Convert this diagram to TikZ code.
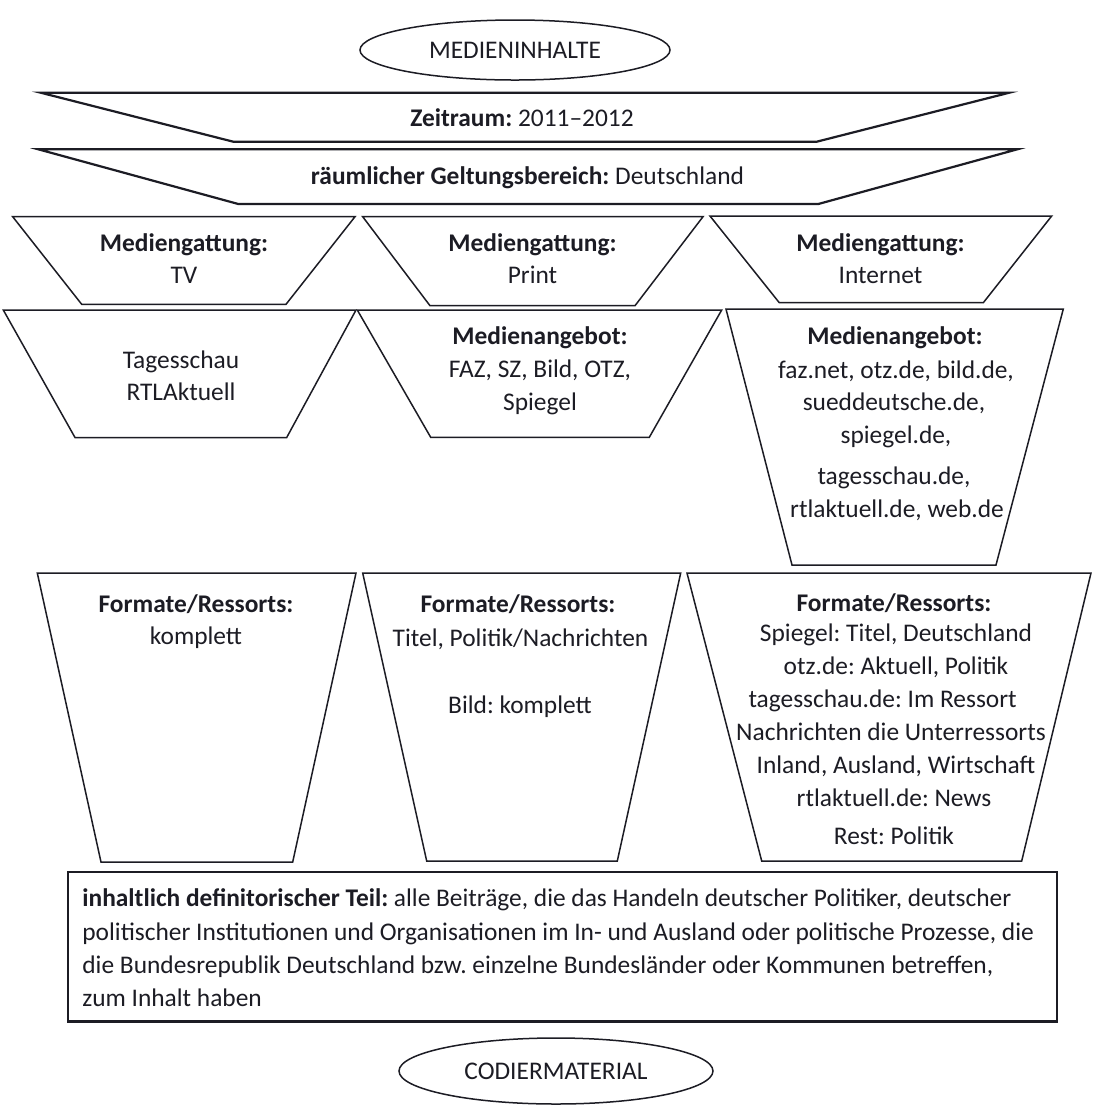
\documentclass[tikz,border=0pt]{standalone}
\usepackage{fontspec}
\setmainfont{Carlito}
\usetikzlibrary{shapes.geometric}
\definecolor{ink}{RGB}{28,28,36}
\frenchspacing
\begin{document}
\begin{tikzpicture}[x=0.5pt,y=-0.5pt,
  shapeline/.style={draw=ink,line width=0.75pt,line join=miter},
  heavyline/.style={draw=ink,line width=1.1pt,line join=miter},
  txt/.style={anchor=mid,inner sep=0pt,yshift=-1.8pt,text=ink,font=\fontsize{12.7}{15}\selectfont},
  ltxt/.style={txt,anchor=mid west},
  oval/.style={draw=ink,line width=0.75pt,ellipse,inner sep=0pt,text=ink,font=\fontsize{12.7}{15}\selectfont}
]
\useasboundingbox (0,0) rectangle (1101,1116);
\fill[white] (0,0) rectangle (1101,1116);

% top ellipse
\node[oval,minimum width=155pt,minimum height=30pt] (medien) at (515,50) {MEDIENINHALTE};

% Zeitraum
\draw[heavyline] (40.7,92.7) -- (1009.3,92.7) -- (816.7,141.7) -- (233.3,141.7) -- cycle;
\node[txt] (zeit) at (522,118) {\textbf{Zeitraum:} 2011–2012};

% raeumlicher Geltungsbereich
\draw[heavyline] (38.3,149.3) -- (1017.3,149.3) -- (818.3,204) -- (238.3,204) -- cycle;
\node[txt] (raum) at (527.5,176) {\textbf{räumlicher Geltungsbereich:} Deutschland};

% Mediengattung row
\draw[shapeline] (12.7,216.7) -- (355,216.7) -- (286,304.3) -- (81.7,304.3) -- cycle;
\node[txt] (mgtv1) at (184,243) {\textbf{Mediengattung:}};
\node[txt] (mgtv2) at (184,275) {TV};

\draw[shapeline] (362.7,216.7) -- (703,216.7) -- (635,305.7) -- (430,305.7) -- cycle;
\node[txt] (mgpr1) at (532.5,243) {\textbf{Mediengattung:}};
\node[txt] (mgpr2) at (532.5,275) {Print};

\draw[shapeline] (710,216) -- (1051.7,216) -- (983.3,302.7) -- (779.3,302.7) -- cycle;
\node[txt] (mgin1) at (880.5,243) {\textbf{Mediengattung:}};
\node[txt] (mgin2) at (880.5,275) {Internet};

% Medienangebot row
\draw[shapeline] (3.3,310) -- (356,310) -- (286.7,437.5) -- (75,437.5) -- cycle;
\node[txt] (matv1) at (181,360) {Tagesschau};
\node[txt] (matv2) at (181,392) {RTLAktuell};

\draw[shapeline] (357.3,310) -- (721.7,310) -- (649.3,437.3) -- (430.7,437.3) -- cycle;
\node[txt] (mapr1) at (540,336) {\textbf{Medienangebot:}};
\node[txt] (mapr2) at (540,369) {FAZ, SZ, Bild, OTZ,};
\node[txt] (mapr3) at (540,402) {Spiegel};

\draw[shapeline] (726,309) -- (1063.3,309) -- (996,565) -- (792,565) -- cycle;
\node[txt] (main1) at (895,336) {\textbf{Medienangebot:}};
\node[txt] (main2) at (896,370) {faz.net, otz.de, bild.de,};
\node[txt] (main3) at (894,402) {sueddeutsche.de,};
\node[txt] (main4) at (896,435) {spiegel.de,};
\node[txt] (main5) at (894,476) {tagesschau.de,};
\node[txt] (main6) at (897,509) {rtlaktuell.de, web.de};

% Formate/Ressorts row
\draw[shapeline] (37.3,573) -- (356,573) -- (292.7,862) -- (101,862) -- cycle;
\node[txt] (frtv1) at (196,604) {\textbf{Formate/Ressorts:}};
\node[txt] (frtv2) at (196,636) {komplett};

\draw[shapeline] (362.7,573) -- (680.7,573) -- (617.3,861) -- (426.7,861) -- cycle;
\node[txt] (frpr1) at (518,604) {\textbf{Formate/Ressorts:}};
\node[txt] (frpr2) at (520.5,638) {Titel, Politik/Nachrichten};
\node[txt] (frpr3) at (520,705) {Bild: komplett};

\draw[shapeline] (687,573) -- (1091,573) -- (1021.7,861) -- (761.7,861) -- cycle;
\node[txt] (frin1) at (894,603) {\textbf{Formate/Ressorts:}};
\node[txt] (frin2) at (896,633) {Spiegel: Titel, Deutschland};
\node[txt] (frin3) at (896,666) {otz.de: Aktuell, Politik};
\node[txt] (frin4) at (882.6,699) {tagesschau.de: Im Ressort};
\node[txt] (frin5) at (891,732) {Nachrichten die Unterressorts};
\node[txt] (frin6) at (896,765) {Inland, Ausland, Wirtschaft};
\node[txt] (frin7) at (894,798) {rtlaktuell.de: News};
\node[txt] (frin8) at (894,836) {Rest: Politik};

% bottom box
\draw[heavyline] (67.7,872.3) rectangle (1056.7,1021.5);
\node[ltxt] (def1) at (82,898) {\textbf{inhaltlich definitorischer Teil:} alle Beiträge, die das Handeln deutscher Politiker, deutscher};
\node[ltxt] (def2) at (82,932) {politischer Institutionen und Organisationen im In- und Ausland oder politische Prozesse, die};
\node[ltxt] (def3) at (82,965) {die Bundesrepublik Deutschland bzw. einzelne Bundesländer oder Kommunen betreffen,};
\node[ltxt] (def4) at (82,998) {zum Inhalt haben};

% bottom ellipse
\node[oval,minimum width=157pt,minimum height=33pt] (codier) at (556,1071) {CODIERMATERIAL};
\end{tikzpicture}
\end{document}
